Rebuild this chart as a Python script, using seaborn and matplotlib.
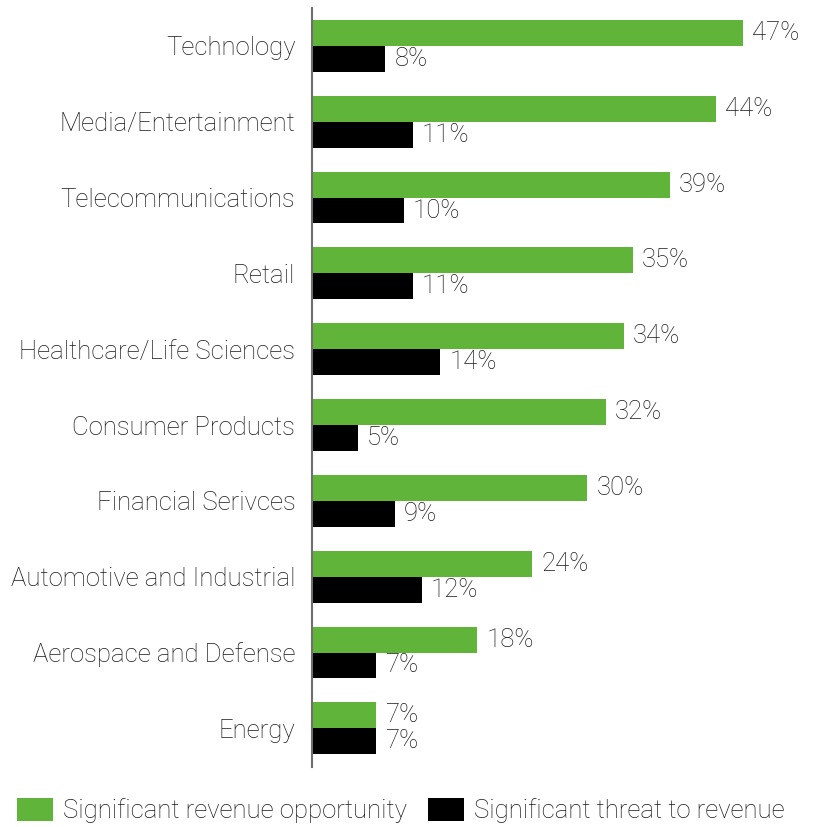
import matplotlib
matplotlib.use("Agg")
import matplotlib.pyplot as plt
import seaborn as sns
import pandas as pd
from matplotlib.patches import Patch

categories = [
    "Technology", "Media/Entertainment", "Telecommunications", "Retail",
    "Healthcare/Life Sciences", "Consumer Products", "Financial Serivces",
    "Automotive and Industrial", "Aerospace and Defense", "Energy",
]
opportunity = [47, 44, 39, 35, 34, 32, 30, 24, 18, 7]
threat = [8, 11, 10, 11, 14, 5, 9, 12, 7, 7]
series_names = ["Significant revenue opportunity", "Significant threat to revenue"]
colors = ["#60b43a", "#000000"]

df = pd.DataFrame({
    "Industry": categories * 2,
    "Share": opportunity + threat,
    "Series": [series_names[0]] * len(categories) + [series_names[1]] * len(categories),
})

sns.set_theme(style="white")
plt.rcParams["font.family"] = ["Roboto", "DejaVu Sans"]

FS = 18.5
TXT = "#1a1a1a"

fig = plt.figure(figsize=(8.16, 8.27), dpi=100)
ax = fig.add_axes([312 / 816, 60 / 827, 500 / 816, 759 / 827])

sns.barplot(
    data=df, y="Industry", x="Share", hue="Series", orient="h",
    palette=colors, saturation=1, width=0.684, linewidth=0, ax=ax,
    legend=False, order=categories, hue_order=series_names,
)

for cont in ax.containers:
    ax.bar_label(cont, labels=[f"{v:.0f}%" for v in cont.datavalues],
                 padding=6.5, fontsize=FS, color=TXT, fontweight="light")

ax.set_xlim(0, 54.5)
ax.set_ylim(9.51, -0.5)
ax.set_xlabel("")
ax.set_ylabel("")
ax.set_xticks([])
ax.tick_params(axis="y", length=0, pad=12, labelsize=FS, labelcolor=TXT)
for lbl in ax.get_yticklabels():
    lbl.set_fontweight("light")
for side in ["top", "right", "bottom"]:
    ax.spines[side].set_visible(False)
ax.spines["left"].set_color("#6e6e6e")
ax.spines["left"].set_linewidth(1.5)

handles = [Patch(facecolor=c, edgecolor="none") for c in colors]
fig.legend(
    handles, series_names, loc="lower left", bbox_to_anchor=(12 / 816, -1 / 827),
    ncol=2, frameon=False, handlelength=1.4, handleheight=1.0,
    handletextpad=0.4, columnspacing=0.8, borderpad=0.2, borderaxespad=0,
    prop={"weight": "light", "size": FS}, labelcolor=TXT,
)

fig.savefig("out.png", dpi=100)
